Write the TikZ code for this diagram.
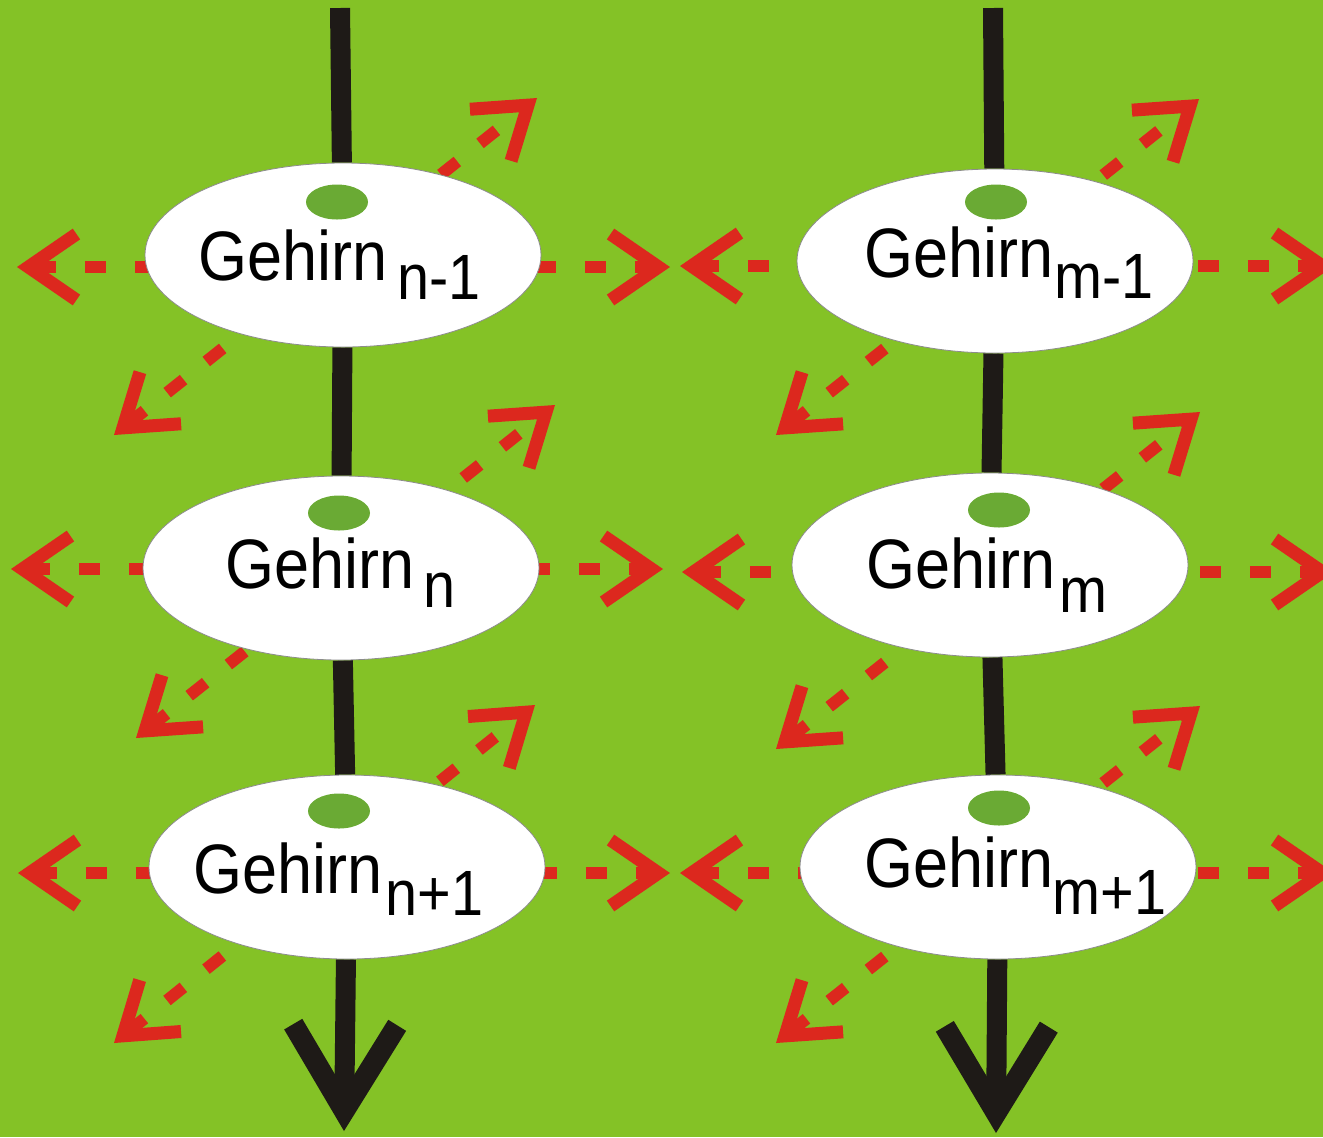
\documentclass[tikz,border=0pt]{standalone}
\usepackage{fontspec}
\setmainfont{Liberation Sans}
\newfontfamily\gfont[FakeStretch=0.9]{Liberation Sans}
\newfontfamily\gsubfont[FakeStretch=0.9]{Liberation Sans}
\usetikzlibrary{arrows.meta,shapes.geometric,backgrounds}
\definecolor{bggreen}{RGB}{132,194,38}
\definecolor{dotgreen}{RGB}{106,170,52}
\definecolor{arred}{RGB}{220,40,30}
\definecolor{shaftcol}{RGB}{30,26,23}
\newcommand{\gehirn}[3]{Gehirn\hspace{#1}\raisebox{-#2}{\gsubfont\fontsize{32pt}{36pt}\selectfont #3}}
\begin{document}
\begin{tikzpicture}[x=0.5pt,y=-0.5pt,
  brain/.style={ellipse, fill=white, draw=black!45, line width=0.4pt,
    minimum width=198pt, minimum height=92pt, inner sep=0pt},
  spot/.style={ellipse, fill=dotgreen, minimum width=31pt, minimum height=17.5pt, inner sep=0pt},
  lbl/.style={anchor=base west, inner sep=0pt, text=black,
    font=\gfont\fontsize{35pt}{40pt}\selectfont},
  redarr/.style={draw=arred, line width=6pt, dash pattern=on 10.5pt off 14.5pt,
    {Straight Barb[sharp,length=24pt,width=33pt,line width=6.5pt]}-{Straight Barb[sharp,length=24pt,width=33pt,line width=6.5pt]}},
  shaftline/.style={draw=shaftcol, line width=10pt},
  flow/.style={draw=shaftcol, line width=10pt, -{Straight Barb[sharp,length=43pt,width=52pt,line width=10.5pt]}}
]
\useasboundingbox (0,0) rectangle (1323,1137);

% brains
\node[brain] (e1) at (343,255) {};
\node[brain] (e2) at (341,568) {};
\node[brain] (e3) at (347,867) {};
\node[brain] (f1) at (995,261) {};
\node[brain] (f2) at (990,565) {};
\node[brain] (f3) at (998,867) {};

\node[spot] (d1) at (337,202) {};
\node[spot] (d2) at (339,513) {};
\node[spot] (d3) at (339,811) {};
\node[spot] (g1) at (996,202) {};
\node[spot] (g2) at (999,510) {};
\node[spot] (g3) at (999,808) {};

\node[lbl] (t1) at (198,280) {\gehirn{5pt}{9.5pt}{n-1}};
\node[lbl] (t2) at (225,588) {\gehirn{4.5pt}{9.5pt}{n}};
\node[lbl] (t3) at (193,893) {\gehirn{1.5pt}{11pt}{n+1}};
\node[lbl] (u1) at (864,277) {\gehirn{0.5pt}{10.5pt}{m-1}};
\node[lbl] (u2) at (866,588) {\gehirn{2pt}{12pt}{m}};
\node[lbl] (u3) at (864,887) {\gehirn{-0.5pt}{13.5pt}{m+1}};

% free ends
\coordinate (topL) at (340,8);
\coordinate (botL) at (344,1131);
\coordinate (topR) at (993,8);
\coordinate (botR) at (996,1133);

\coordinate (hl1a) at (17,267);  \coordinate (hl1b) at (670,267);
\coordinate (hl2a) at (11,569);  \coordinate (hl2b) at (663,569);
\coordinate (hl3a) at (18,873);  \coordinate (hl3b) at (670,873);
\coordinate (hr1a) at (680,266); \coordinate (hr1b) at (1334,266);
\coordinate (hr2a) at (682,572); \coordinate (hr2b) at (1334,572);
\coordinate (hr3a) at (680,873); \coordinate (hr3b) at (1334,873);

\coordinate (dl1a) at (114,435); \coordinate (dl1b) at (537,98);
\coordinate (dl2a) at (136,738); \coordinate (dl2b) at (555,405);
\coordinate (dl3a) at (114,1043); \coordinate (dl3b) at (535,705);
\coordinate (dr1a) at (776,435); \coordinate (dr1b) at (1199,99);
\coordinate (dr2a) at (776,749); \coordinate (dr2b) at (1200,412);
\coordinate (dr3a) at (776,1043); \coordinate (dr3b) at (1200,706);

\begin{scope}[on background layer]
  \fill[bggreen] (0,0) rectangle (1323,1137);
  % vertical flows
  \draw[shaftline] (topL) -- (e1);
  \draw[shaftline] (e1) -- (e2);
  \draw[shaftline] (e2) -- (e3);
  \draw[flow] (e3) -- (botL);
  \draw[shaftline] (topR) -- (f1);
  \draw[shaftline] (f1) -- (f2);
  \draw[shaftline] (f2) -- (f3);
  \draw[flow] (f3) -- (botR);
  % red dashed double arrows
  \foreach \p in {hl1,hl2,hl3,hr1,hr2,hr3,dl1,dl2,dl3,dr1,dr2,dr3}
    \draw[redarr] (\p a) -- (\p b);
\end{scope}
\end{tikzpicture}
\end{document}
